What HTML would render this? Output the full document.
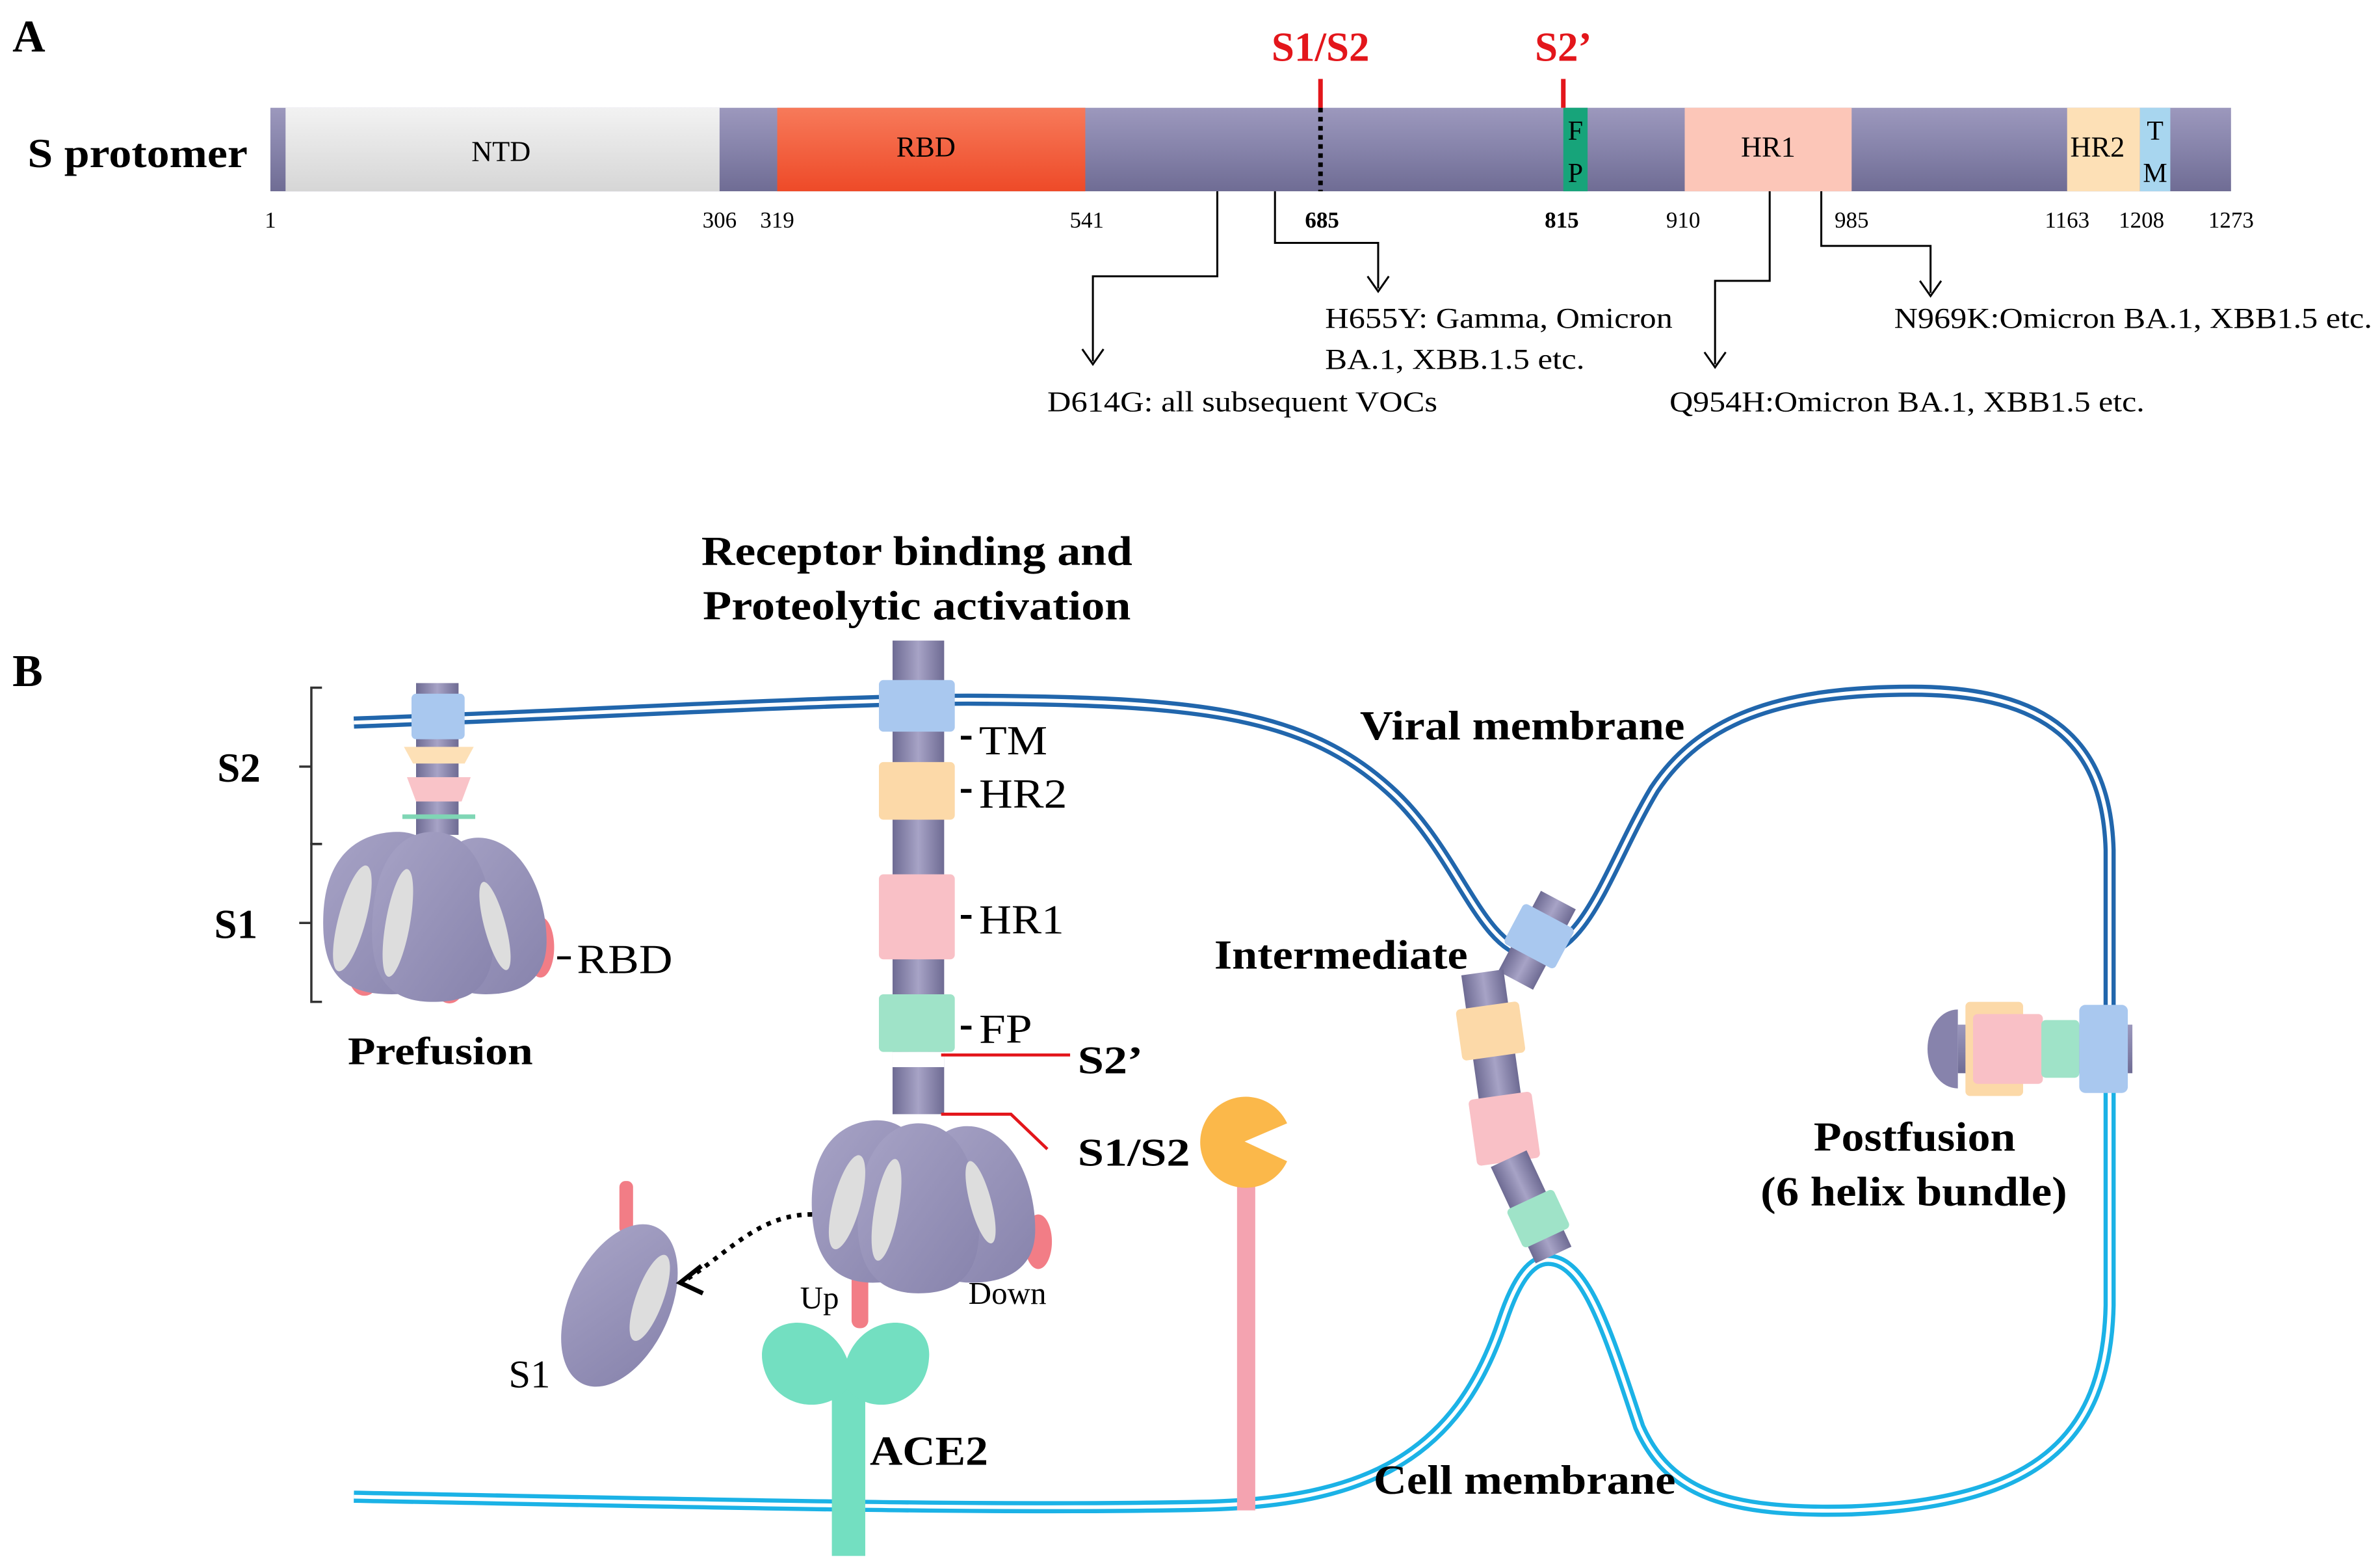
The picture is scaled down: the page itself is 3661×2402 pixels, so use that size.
<!DOCTYPE html>
<html><head><meta charset="utf-8"><style>
html,body{margin:0;padding:0;background:#fff;}
svg{display:block;}
text{font-family:"Liberation Serif",serif;}
</style></head><body>
<svg width="3661" height="2402" viewBox="0 0 1568 1029" xmlns="http://www.w3.org/2000/svg">
<defs>
<linearGradient id="pu" x1="0" y1="0" x2="0" y2="1"><stop offset="0" stop-color="#9c98bd"/><stop offset="0.5" stop-color="#8683aa"/><stop offset="1" stop-color="#6f6c94"/></linearGradient>
<linearGradient id="gr" x1="0" y1="0" x2="0" y2="1"><stop offset="0" stop-color="#f2f2f2"/><stop offset="1" stop-color="#d6d6d6"/></linearGradient>
<linearGradient id="rb" x1="0" y1="0" x2="0" y2="1"><stop offset="0" stop-color="#f77a5a"/><stop offset="1" stop-color="#ee4a28"/></linearGradient>
<linearGradient id="col" x1="0" y1="0" x2="1" y2="0"><stop offset="0" stop-color="#6e6b93"/><stop offset="0.5" stop-color="#a7a3c6"/><stop offset="1" stop-color="#6e6b93"/></linearGradient>
<linearGradient id="lob" x1="0" y1="0" x2="1" y2="1"><stop offset="0" stop-color="#a7a3c6"/><stop offset="1" stop-color="#8783ac"/></linearGradient>
</defs>

<!-- PANEL A -->
<text x="8" y="34" font-size="30" font-weight="bold">A</text>
<text x="18" y="110" font-size="27" font-weight="bold" textLength="145" lengthAdjust="spacingAndGlyphs">S protomer</text>
<rect x="178" y="71" width="1292" height="55" fill="url(#pu)"/>
<rect x="188" y="71" width="286" height="55" fill="url(#gr)"/>
<rect x="512" y="71" width="203" height="55" fill="url(#rb)"/>
<rect x="1030" y="71" width="16" height="55" fill="#17a47a"/>
<rect x="1110" y="71" width="110" height="55" fill="#fcc6b8"/>
<rect x="1362" y="71" width="48" height="55" fill="#fde0b6"/>
<rect x="1410" y="71" width="20" height="55" fill="#a8d6ef"/>
<text x="330" y="106" font-size="19" text-anchor="middle">NTD</text>
<text x="610" y="103" font-size="19" text-anchor="middle">RBD</text>
<text x="1038" y="92" font-size="18" text-anchor="middle">F</text>
<text x="1038" y="120" font-size="18" text-anchor="middle">P</text>
<text x="1165" y="103" font-size="19" text-anchor="middle">HR1</text>
<text x="1382" y="103" font-size="19" text-anchor="middle">HR2</text>
<text x="1420" y="92" font-size="18" text-anchor="middle">T</text>
<text x="1420" y="120" font-size="18" text-anchor="middle">M</text>
<line x1="870" y1="52" x2="870" y2="71" stroke="#e3161b" stroke-width="3"/>
<line x1="870" y1="71" x2="870" y2="126" stroke="#000" stroke-width="3" stroke-dasharray="3,3"/>
<line x1="1030" y1="52" x2="1030" y2="71" stroke="#e3161b" stroke-width="3"/>
<text x="870" y="40" font-size="27" font-weight="bold" fill="#e3161b" text-anchor="middle">S1/S2</text>
<text x="1030" y="40" font-size="27" font-weight="bold" fill="#e3161b" text-anchor="middle">S2’</text>
<g font-size="15" text-anchor="middle">
<text x="178" y="150">1</text><text x="474" y="150">306</text><text x="512" y="150">319</text>
<text x="716" y="150">541</text><text x="871" y="150" font-weight="bold">685</text><text x="1029" y="150" font-weight="bold">815</text>
<text x="1109" y="150">910</text><text x="1220" y="150">985</text><text x="1362" y="150">1163</text>
<text x="1411" y="150">1208</text><text x="1470" y="150">1273</text>
</g>
<g fill="none" stroke="#000" stroke-width="1.3">
<polyline points="802,126 802,182 720,182 720,238"/>
<polyline points="840,126 840,160 908,160 908,190"/>
<polyline points="1166,126 1166,185 1130,185 1130,240"/>
<polyline points="1200,126 1200,162 1272,162 1272,193"/>
<path d="M713,230 L720,240 L727,230"/>
<path d="M901,182 L908,192 L915,182"/>
<path d="M1123,232 L1130,242 L1137,232"/>
<path d="M1265,185 L1272,195 L1279,185"/>
</g>
<g font-size="19" lengthAdjust="spacingAndGlyphs">
<text x="690" y="271" textLength="257" lengthAdjust="spacingAndGlyphs">D614G: all subsequent VOCs</text>
<text x="873" y="216" textLength="229" lengthAdjust="spacingAndGlyphs">H655Y: Gamma, Omicron</text>
<text x="873" y="243" textLength="171" lengthAdjust="spacingAndGlyphs">BA.1, XBB.1.5 etc.</text>
<text x="1100" y="271" textLength="313" lengthAdjust="spacingAndGlyphs">Q954H:Omicron BA.1, XBB1.5 etc.</text>
<text x="1248" y="216" textLength="315" lengthAdjust="spacingAndGlyphs">N969K:Omicron BA.1, XBB1.5 etc.</text>
</g>

<!-- PANEL B -->
<text x="8" y="452" font-size="30" font-weight="bold">B</text>
<text x="462" y="372" font-size="27" font-weight="bold" textLength="284" lengthAdjust="spacingAndGlyphs">Receptor binding  and</text>
<text x="463" y="408" font-size="27" font-weight="bold" textLength="282" lengthAdjust="spacingAndGlyphs">Proteolytic activation</text>

<g fill="none">
<path id="vm" d="M233,476 C400,470 560,460 650,461 C790,462 860,470 915,520 C960,560 975,625 1008,628 C1045,630 1060,570 1090,520 C1120,475 1170,455 1260,455 C1350,455 1388,490 1390,560 L1390,690"/>
<path id="cm" d="M233,986 C450,990 650,995 790,992 C900,990 960,960 990,870 C1000,840 1010,830 1020,830 C1045,830 1060,880 1080,940 C1100,985 1140,997 1220,995 C1340,990 1388,950 1390,860 L1390,690"/>
</g>
<use href="#vm" stroke="#2166ac" stroke-width="8" fill="none"/>
<use href="#vm" stroke="#fff" stroke-width="2.5" fill="none"/>
<use href="#cm" stroke="#1bb2e6" stroke-width="8" fill="none"/>
<use href="#cm" stroke="#fff" stroke-width="2.5" fill="none"/>

<g fill="none" stroke="#333" stroke-width="1.5">
<polyline points="212,453 205,453 205,556 212,556"/>
<polyline points="212,556 205,556 205,660 212,660"/>
<line x1="197" y1="505" x2="205" y2="505"/>
<line x1="197" y1="608" x2="205" y2="608"/>
</g>
<text x="143" y="515" font-size="27" font-weight="bold">S2</text>
<text x="141" y="618" font-size="27" font-weight="bold">S1</text>

<!-- prefusion -->
<rect x="274" y="450" width="28" height="100" fill="url(#col)"/>
<rect x="271" y="457" width="35" height="30" rx="3" fill="#a9c8ef"/>
<path d="M266,492 L312,492 L306,503 L272,503Z" fill="#fde0b6"/>
<path d="M268,512 L310,512 L304,528 L274,528Z" fill="#f9c3c8"/>
<line x1="265" y1="538" x2="313" y2="538" stroke="#7fd6b5" stroke-width="3"/>
<ellipse cx="240" cy="640" rx="11" ry="16" fill="#f27d86"/>
<ellipse cx="296" cy="645" rx="11" ry="16" fill="#f27d86"/>
<ellipse cx="356" cy="624" rx="9" ry="20" fill="#f27d86"/>
<path d="M213,615 C210,560 240,548 262,548 C290,548 300,580 300,615 C300,650 280,655 258,655 C230,655 215,645 213,615Z" fill="url(#lob)"/>
<path d="M280,610 C282,565 300,550 318,552 C345,555 360,590 360,620 C360,648 340,655 320,655 C295,655 280,640 280,610Z" fill="url(#lob)"/>
<path d="M245,615 C245,565 265,548 285,548 C310,548 325,575 325,620 C325,655 305,660 285,660 C262,660 245,650 245,615Z" fill="url(#lob)"/>
<ellipse cx="232" cy="605" rx="9" ry="36" fill="#ddd" transform="rotate(15 232 605)"/>
<ellipse cx="262" cy="608" rx="8" ry="36" fill="#ddd" transform="rotate(10 262 608)"/>
<ellipse cx="326" cy="610" rx="7" ry="30" fill="#ddd" transform="rotate(-15 326 610)"/>
<line x1="367" y1="631" x2="376" y2="631" stroke="#000" stroke-width="2"/>
<text x="380" y="641" font-size="27" textLength="63" lengthAdjust="spacingAndGlyphs">RBD</text>
<text x="229" y="701" font-size="26" font-weight="bold" textLength="122" lengthAdjust="spacingAndGlyphs">Prefusion</text>

<!-- activation stalk -->
<rect x="588" y="422" width="34" height="312" fill="url(#col)"/>
<rect x="579" y="448" width="50" height="34" rx="3" fill="#a9c8ef"/>
<rect x="579" y="502" width="50" height="38" rx="3" fill="#fcd9a8"/>
<rect x="579" y="576" width="50" height="56" rx="3" fill="#f9c0c6"/>
<rect x="579" y="655" width="50" height="38" rx="3" fill="#9fe3c8"/>
<rect x="588" y="693" width="34" height="10" fill="#fff"/>
<g stroke="#000" stroke-width="2.5">
<line x1="633" y1="486" x2="640" y2="486"/><line x1="633" y1="521" x2="640" y2="521"/>
<line x1="633" y1="604" x2="640" y2="604"/><line x1="633" y1="677" x2="640" y2="677"/>
</g>
<g font-size="27"><text x="645" y="497" textLength="45" lengthAdjust="spacingAndGlyphs">TM</text><text x="645" y="532" textLength="58" lengthAdjust="spacingAndGlyphs">HR2</text><text x="645" y="615" textLength="56" lengthAdjust="spacingAndGlyphs">HR1</text><text x="645" y="687" textLength="35" lengthAdjust="spacingAndGlyphs">FP</text></g>
<polyline points="620,695 705,695" stroke="#e3161b" stroke-width="2" fill="none"/>
<polyline points="620,734 666,734 690,757" stroke="#e3161b" stroke-width="2" fill="none"/>
<text x="710" y="707" font-size="26" font-weight="bold" textLength="43" lengthAdjust="spacingAndGlyphs">S2’</text>
<text x="710" y="768" font-size="26" font-weight="bold" textLength="74" lengthAdjust="spacingAndGlyphs">S1/S2</text>
<!-- activated head -->
<ellipse cx="684" cy="818" rx="9" ry="18" fill="#f27d86"/>
<ellipse cx="648" cy="833" rx="16" ry="10" fill="#f27d86"/>
<rect x="561" y="830" width="11" height="45" rx="5" fill="#f27d86"/>
<path d="M535,800 C532,755 555,738 578,738 C605,738 615,770 615,800 C615,838 595,845 575,845 C550,845 537,830 535,800Z" fill="url(#lob)"/>
<path d="M600,800 C602,758 620,740 640,742 C668,745 682,780 682,810 C682,838 660,845 640,845 C615,845 600,830 600,800Z" fill="url(#lob)"/>
<path d="M565,805 C565,760 585,740 605,740 C630,740 645,765 645,810 C645,845 625,852 605,852 C582,852 565,840 565,805Z" fill="url(#lob)"/>
<ellipse cx="558" cy="792" rx="9" ry="32" fill="#ddd" transform="rotate(15 558 792)"/>
<ellipse cx="584" cy="797" rx="8" ry="34" fill="#ddd" transform="rotate(10 584 797)"/>
<ellipse cx="646" cy="792" rx="7" ry="28" fill="#ddd" transform="rotate(-15 646 792)"/>
<text x="527" y="862" font-size="21">Up</text>
<text x="638" y="859" font-size="21">Down</text>
<!-- ACE2 -->
<rect x="548" y="900" width="22" height="125" fill="#73dfc1"/>
<path d="M558,915 C540,935 505,925 502,895 C500,865 545,862 558,895 C570,862 615,865 612,895 C610,925 575,935 558,915Z" fill="#73dfc1"/>
<text x="573" y="965" font-size="27" font-weight="bold" textLength="78" lengthAdjust="spacingAndGlyphs">ACE2</text>
<!-- free S1 -->
<rect x="408" y="778" width="9" height="35" rx="4" fill="#f27d86"/>
<ellipse cx="408" cy="860" rx="33" ry="57" fill="url(#lob)" transform="rotate(25 408 860)"/>
<ellipse cx="428" cy="855" rx="9" ry="30" fill="#ddd" transform="rotate(20 428 855)"/>
<text x="335" y="914" font-size="26">S1</text>
<path d="M535,800 C500,800 480,825 452,843" fill="none" stroke="#000" stroke-width="3" stroke-dasharray="3,4"/>
<path d="M462,834 L448,845 L463,852" fill="none" stroke="#000" stroke-width="3"/>
<!-- protease -->
<rect x="815" y="780" width="12" height="215" fill="#f4a3b0"/>
<path d="M820,752 L848,740 A30,30 0 1 0 848,765 Z" fill="#fbb84a"/>

<!-- intermediate -->
<g transform="rotate(28 1015 615)"><rect x="1002" y="590" width="26" height="60" fill="url(#col)"/><rect x="996" y="602" width="38" height="30" rx="3" fill="#a9c8ef"/></g>
<g transform="rotate(-8 985 700)"><rect x="971" y="640" width="28" height="125" fill="url(#col)"/><rect x="964" y="662" width="42" height="34" rx="3" fill="#fcd9a8"/><rect x="964" y="722" width="42" height="44" rx="3" fill="#f9c0c6"/></g>
<g transform="rotate(-25 1010 800)"><rect x="998" y="760" width="26" height="70" fill="url(#col)"/><rect x="995" y="790" width="34" height="28" rx="3" fill="#9fe3c8"/></g>
<text x="800" y="638" font-size="27" font-weight="bold" textLength="167" lengthAdjust="spacingAndGlyphs">Intermediate</text>
<text x="896" y="487" font-size="27" font-weight="bold" textLength="214" lengthAdjust="spacingAndGlyphs">Viral  membrane</text>
<text x="905" y="984" font-size="27" font-weight="bold" textLength="199" lengthAdjust="spacingAndGlyphs">Cell membrane</text>

<!-- postfusion -->
<rect x="1290" y="675" width="115" height="32" fill="url(#pu)"/>
<path d="M1290,665 A20,26 0 0 0 1290,717 Z" fill="#8783ac"/>
<rect x="1295" y="660" width="38" height="62" rx="3" fill="#fcd9a8"/>
<rect x="1300" y="668" width="46" height="46" rx="3" fill="#f9c0c6"/>
<rect x="1345" y="672" width="25" height="38" rx="3" fill="#9fe3c8"/>
<rect x="1370" y="662" width="32" height="58" rx="4" fill="#a9c8ef"/>
<text x="1195" y="758" font-size="27" font-weight="bold" textLength="133" lengthAdjust="spacingAndGlyphs">Postfusion</text>
<text x="1160" y="794" font-size="27" font-weight="bold" textLength="202" lengthAdjust="spacingAndGlyphs">(6 helix bundle)</text>
</svg>
</body></html>
